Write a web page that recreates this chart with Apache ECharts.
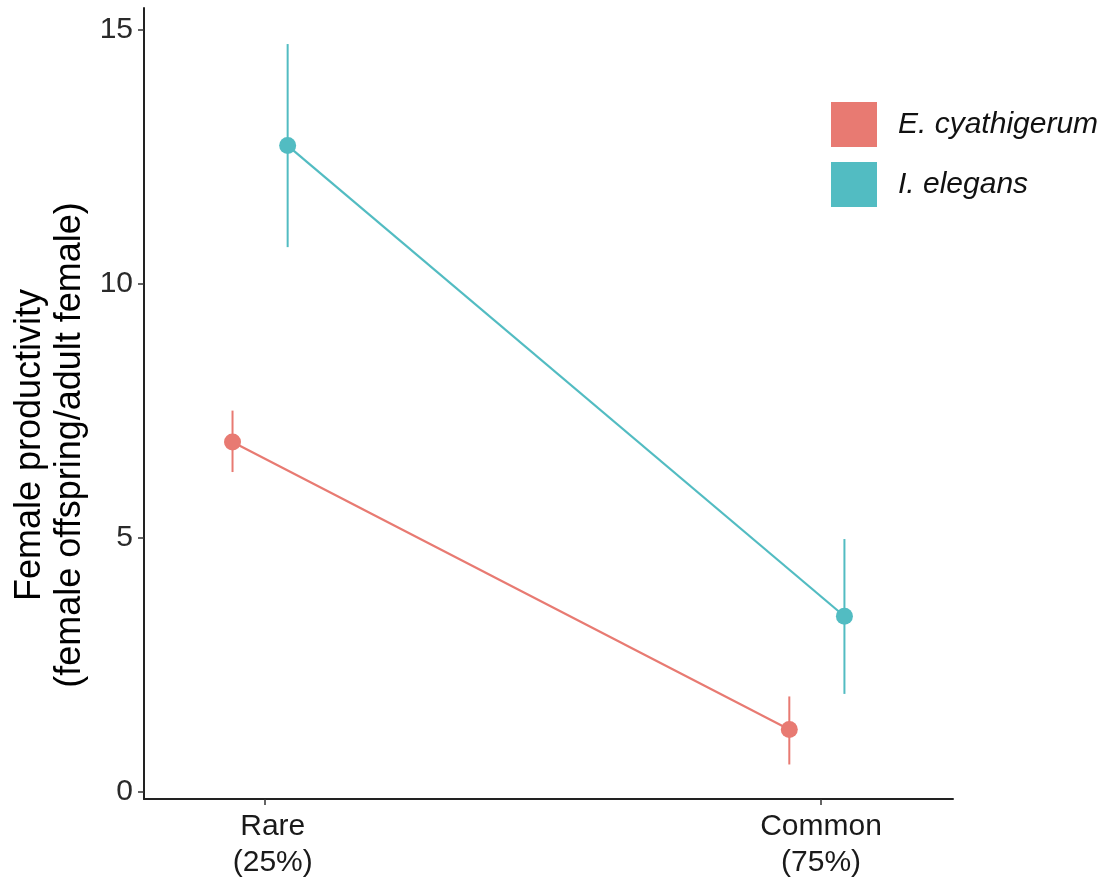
<!DOCTYPE html>
<html><head><meta charset="utf-8">
<script src="https://cdn.jsdelivr.net/npm/echarts@6/dist/echarts.min.js"></script>
<style>html,body{margin:0;padding:0;background:#fff}#c{width:1107px;height:884px}</style>
</head><body><div id="c"></div>
<script>
// ---- data ----
const categories = ['Rare\n(25%)', 'Common\n(75%)'];
const seriesNames = ['E. cyathigerum', 'I. elegans'];
const ecMean = [6.88, 1.22];
const ecLow  = [6.29, 0.53];
const ecHigh = [7.50, 1.87];
const ieMean = [12.72, 3.45];
const ieLow  = [10.72, 1.92];
const ieHigh = [14.72, 4.97];
const yTicks = [0, 5, 10, 15];

// ---- styling / layout ----
const colors = ['#E87A72', '#52BCC2'];
const dodge = [-0.057, 0.042];
const FONT = '"Liberation Sans", Arial, Helvetica, sans-serif';

const means = [ecMean, ieMean], lows = [ecLow, ieLow], highs = [ecHigh, ieHigh];
const catPos = categories.map((c, i) => i + 1);

const series = [];
seriesNames.forEach((name, s) => {
  series.push({
    name: name, type: 'line', z: 3,
    data: catPos.map((p, i) => [p + dodge[s], means[s][i]]),
    symbol: 'circle', symbolSize: 17, showSymbol: true,
    itemStyle: { color: colors[s] },
    lineStyle: { color: colors[s], width: 2.2 },
    emphasis: { disabled: true }, animation: false
  });
});
seriesNames.forEach((name, s) => {
  series.push({
    name: name + ' err', type: 'custom', z: 2,
    data: catPos.map((p, i) => [p + dodge[s], lows[s][i], highs[s][i]]),
    encode: { x: 0, y: [1, 2] },
    renderItem: function (params, api) {
      const x = api.value(0);
      const a = api.coord([x, api.value(1)]);
      const b = api.coord([x, api.value(2)]);
      return { type: 'line', shape: { x1: a[0], y1: a[1], x2: b[0], y2: b[1] },
               style: { stroke: colors[s], lineWidth: 2 } };
    },
    animation: false
  });
});

const labelRich = {
  s0: { fontSize: 30, fontFamily: FONT, color: '#1a1a1a', lineHeight: 36, padding: [0, 0, 0, 17] },
  s1: { fontSize: 30, fontFamily: FONT, color: '#1a1a1a', lineHeight: 36 }
};

const chart = echarts.init(document.getElementById('c'));
chart.setOption({
  backgroundColor: '#fff',
  animation: false,
  grid: { left: 144, right: 154, top: 8, bottom: 85 },
  xAxis: {
    type: 'value', min: 0.784, max: 2.237,
    splitLine: { show: false },
    axisLine: { onZero: false, lineStyle: { color: '#222', width: 2 } },
    axisTick: { customValues: catPos, length: 6, lineStyle: { color: '#333', width: 1.5 } },
    axisLabel: {
      customValues: catPos, margin: 10, color: '#1a1a1a', fontSize: 30, fontFamily: FONT,
      lineHeight: 36, rich: labelRich,
      formatter: v => {
        const i = Math.round(v) - 1;
        return categories[i].split('\n').map(l => '{s' + i + '|' + l + '}').join('\n');
      }
    }
  },
  yAxis: {
    type: 'value', min: -0.15, max: 15.43,
    splitLine: { show: false },
    axisLine: { show: true, onZero: false, lineStyle: { color: '#222', width: 2 } },
    axisTick: { show: true, customValues: yTicks, length: 6, lineStyle: { color: '#333', width: 1.5 } },
    axisLabel: { customValues: yTicks, margin: 11, color: '#2a2a2a', fontSize: 30, fontFamily: FONT }
  },
  legend: {
    data: seriesNames, orient: 'vertical', left: 831, top: 102, padding: 0,
    icon: 'rect', itemWidth: 46, itemHeight: 45, itemGap: 15,
    selectedMode: false,
    textStyle: { fontSize: 30, fontStyle: 'italic', fontFamily: FONT, color: '#111', padding: [0, 0, 0, 16] }
  },
  graphic: [{
    type: 'text', x: 50, y: 445, rotation: Math.PI / 2,
    style: {
      text: 'Female productivity\n(female offspring/adult female)',
      fontSize: 36, fontFamily: FONT, fill: '#000',
      align: 'center', verticalAlign: 'middle', lineHeight: 40
    }
  }],
  series: series
});
</script></body></html>
